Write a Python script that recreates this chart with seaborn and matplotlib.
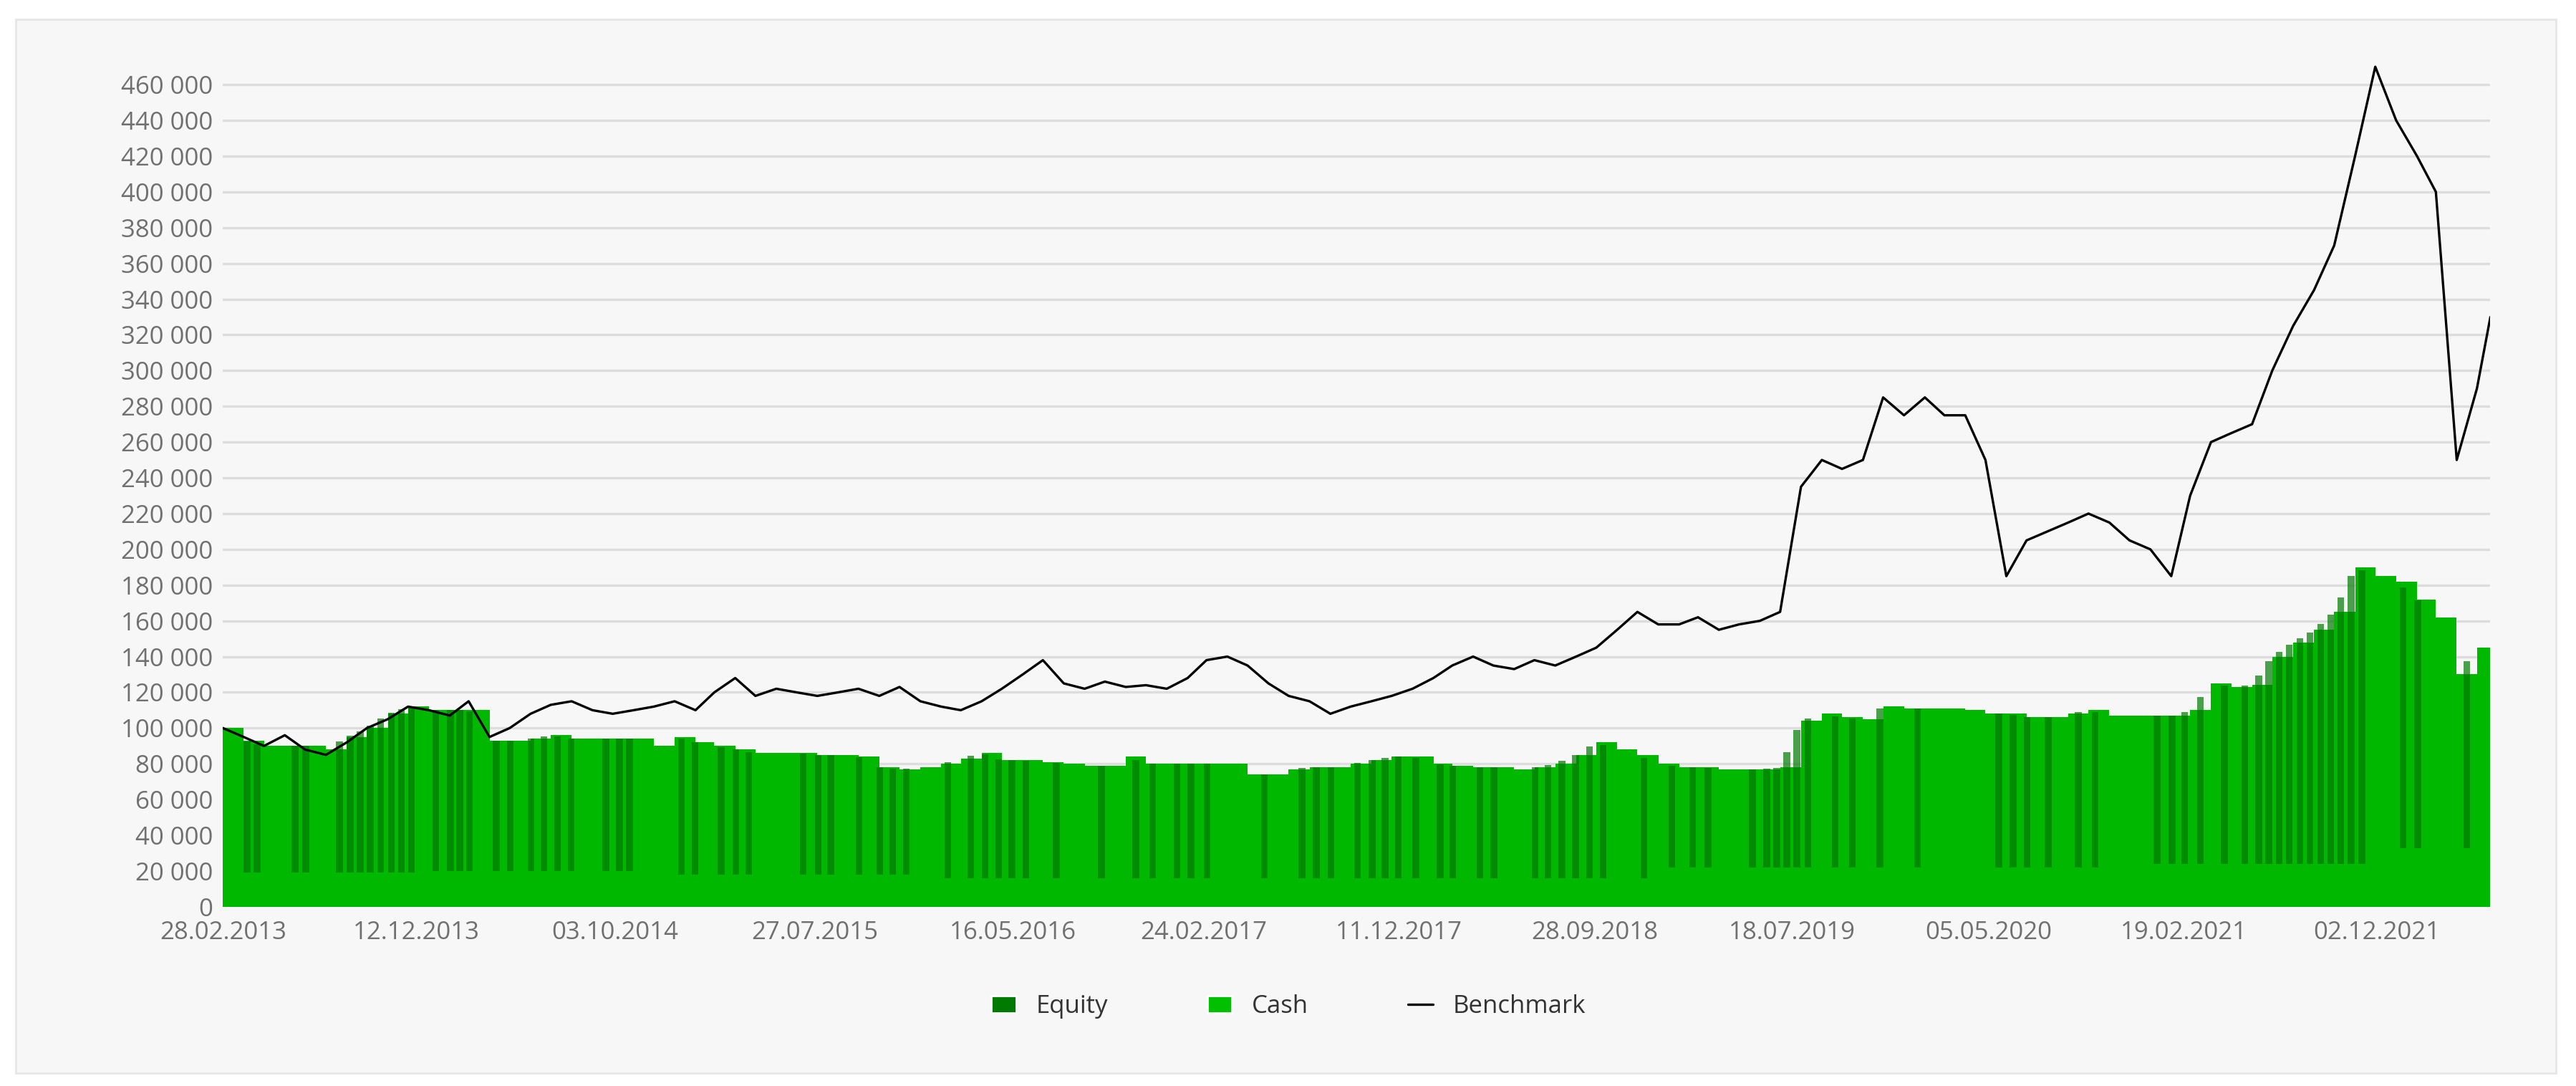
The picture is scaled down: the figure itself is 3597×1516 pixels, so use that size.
import numpy as np
import pandas as pd
import matplotlib
matplotlib.use('Agg')
import matplotlib.pyplot as plt
import matplotlib.dates as mdates
from matplotlib.patches import Patch, Rectangle
from matplotlib.lines import Line2D
from matplotlib.ticker import FuncFormatter
import seaborn as sns

# monthly values (thousands), Feb 2013 .. Apr 2022, plus end point
months = pd.date_range("2013-02-28", "2022-04-30", freq="ME")
benchmark_k = [
    100, 95, 90, 96, 88, 85, 92, 100, 105, 112, 110,
    107, 115, 95, 100, 108, 113, 115, 110, 108, 110, 112, 115,
    110, 120, 128, 118, 122, 120, 118, 120, 122, 118, 123, 115,
    112, 110, 115, 122, 130, 138, 125, 122, 126, 123, 124, 122,
    128, 138, 140, 135, 125, 118, 115, 108, 112, 115, 118, 122,
    128, 135, 140, 135, 133, 138, 135, 140, 145, 155, 165, 158,
    158, 162, 155, 158, 160, 165, 235, 250, 245, 250, 285, 275,
    285, 275, 275, 250, 185, 205, 210, 215, 220, 215, 205, 200,
    185, 230, 260, 265, 270, 300, 325, 345, 370, 420, 470, 440,
    420, 400, 250, 290,
]
cash_k = [
    100, 93, 90, 90, 90, 88, 95, 100, 108, 112, 110,
    110, 110, 93, 93, 94, 96, 94, 94, 94, 94, 90, 95,
    92, 90, 88, 86, 86, 86, 85, 85, 84, 78, 77, 78,
    80, 83, 86, 82, 82, 81, 80, 79, 79, 84, 80, 80,
    80, 80, 80, 74, 74, 77, 78, 78, 80, 82, 84, 84,
    80, 79, 78, 78, 77, 78, 80, 85, 92, 88, 85, 80,
    78, 78, 77, 77, 77, 78, 104, 108, 106, 105, 112, 111,
    111, 111, 110, 108, 108, 106, 106, 108, 110, 107, 107, 107,
    107, 110, 125, 123, 124, 140, 148, 155, 165, 190, 185, 182,
    172, 162, 130, 145,
]
end_date = pd.Timestamp("2022-05-20")
end_bench_k = 330
end_cash_k = 146

equity_dates = pd.to_datetime([
    "2013-04-05", "2013-04-20", "2013-06-15", "2013-07-01", "2013-08-20", "2013-09-05",
    "2013-09-20", "2013-10-05", "2013-10-20", "2013-11-05", "2013-11-20", "2013-12-05",
    "2014-01-10", "2014-02-01", "2014-02-15", "2014-03-01", "2014-04-10", "2014-05-01",
    "2014-06-01", "2014-06-20", "2014-07-10", "2014-07-30", "2014-09-20", "2014-10-10",
    "2014-10-25", "2015-01-10", "2015-01-30", "2015-03-10", "2015-04-01", "2015-04-20",
    "2015-07-10", "2015-08-01", "2015-08-20", "2015-10-01", "2015-11-01", "2015-11-20",
    "2015-12-10", "2016-02-10", "2016-03-15", "2016-04-05", "2016-04-25", "2016-05-15",
    "2016-06-05", "2016-07-20", "2016-09-25", "2016-11-15", "2016-12-10", "2017-01-15",
    "2017-02-05", "2017-03-01", "2017-05-25", "2017-07-20", "2017-08-10", "2017-09-01",
    "2017-10-10", "2017-11-01", "2017-11-20", "2017-12-10", "2018-01-05", "2018-02-10",
    "2018-03-01", "2018-04-10", "2018-05-01", "2018-07-01", "2018-07-20", "2018-08-10",
    "2018-08-30", "2018-09-20", "2018-10-10", "2018-12-10", "2019-01-20", "2019-02-20",
    "2019-03-15", "2019-05-20", "2019-06-10", "2019-06-25", "2019-07-10", "2019-07-25",
    "2019-08-10", "2019-09-20", "2019-10-15", "2019-11-25", "2020-01-20", "2020-05-20",
    "2020-06-10", "2020-07-01", "2020-08-01", "2020-09-15", "2020-10-10", "2021-01-10",
    "2021-02-01", "2021-02-20", "2021-03-15", "2021-04-20", "2021-05-20", "2021-06-10",
    "2021-06-25", "2021-07-10", "2021-07-25", "2021-08-10", "2021-08-25", "2021-09-10",
    "2021-09-25", "2021-10-10", "2021-10-25", "2021-11-10", "2022-01-10", "2022-02-01",
    "2022-04-15",
])
equity_base_k = {2013: 19, 2014: 20, 2015: 18, 2016: 16, 2017: 16, 2018: 16,
                 2019: 22, 2020: 22, 2021: 24, 2022: 33}

tick_labels = ["28.02.2013", "12.12.2013", "03.10.2014", "27.07.2015", "16.05.2016",
               "24.02.2017", "11.12.2017", "28.09.2018", "18.07.2019", "05.05.2020",
               "19.02.2021", "02.12.2021"]

df = pd.DataFrame({
    "date": list(months) + [end_date],
    "benchmark": np.array(benchmark_k + [end_bench_k]) * 1000,
    "cash": np.array(cash_k + [end_cash_k]) * 1000,
})

sns.set_style("white")
plt.rcParams["font.family"] = ["Open Sans", "DejaVu Sans"]
fig = plt.figure(figsize=(17.99, 7.58), dpi=200)
fig.patches.append(Rectangle((0.006, 0.012), 0.986, 0.97, transform=fig.transFigure,
                             facecolor="#f7f7f7", edgecolor="#e6e6e6", zorder=-10))
ax = fig.add_axes([0.0865, 0.165, 0.880, 0.79])
ax.set_facecolor("#f7f7f7")

ax.fill_between(df["date"], 0, df["cash"], color="#00b800", step="post", linewidth=0, zorder=1)
dnum = mdates.date2num(df["date"])
tops = np.interp(mdates.date2num(equity_dates), dnum, df["cash"].values)
bases = np.array([equity_base_k[d.year] * 1000 for d in equity_dates])
ax.bar(equity_dates, tops - bases, bottom=bases, width=10, color="#007a00",
       alpha=0.7, linewidth=0, zorder=2)
sns.lineplot(data=df, x="date", y="benchmark", color="black", linewidth=1.2, ax=ax, zorder=3)

ax.set_ylim(0, 480000)
ax.set_yticks(range(0, 460001, 20000))
ax.yaxis.set_major_formatter(FuncFormatter(lambda v, p: f"{int(v):,}".replace(",", " ")))
ax.set_xlim(pd.Timestamp("2013-02-28"), end_date)
ax.set_xticks(pd.to_datetime(tick_labels, format="%d.%m.%Y"))
ax.set_xticklabels(tick_labels)
ax.grid(axis="y", color="#dddddd", linewidth=1.2)
ax.set_axisbelow(True)
for s in ax.spines.values():
    s.set_visible(False)
ax.tick_params(axis="both", length=0, labelsize=12.5, labelcolor="#707070")
ax.tick_params(axis="x", pad=7)
ax.tick_params(axis="y", pad=5)
ax.set_xlabel("")
ax.set_ylabel("")

handles = [Patch(facecolor="#007a00", label="Equity"),
           Patch(facecolor="#00c000", label="Cash"),
           Line2D([0], [0], color="black", linewidth=1.2, label="Benchmark")]
fig.legend(handles=handles, loc="center", bbox_to_anchor=(0.5, 0.073), ncol=3,
           frameon=False, fontsize=12.5, columnspacing=4, handlelength=1.0,
           labelcolor="#333333")

fig.savefig("out.png", dpi=200, facecolor="white")
